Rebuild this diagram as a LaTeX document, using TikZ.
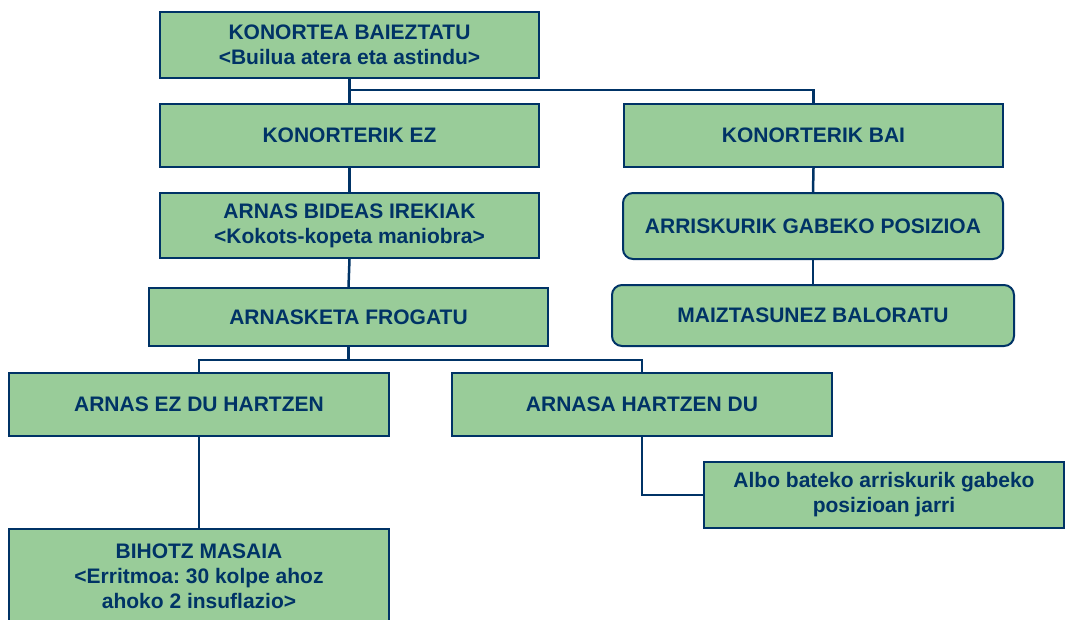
\documentclass[tikz,border=0pt]{standalone}
\usepackage{fontspec}
\setmainfont{Liberation Sans}
\frenchspacing
\definecolor{navy}{HTML}{003366}
\definecolor{boxgreen}{HTML}{99CC99}
\tikzset{
  box/.style={draw=navy, fill=boxgreen, line width=2pt, inner sep=0pt, align=center,
    text=navy, font=\fontsize{21}{25}\selectfont\bfseries},
  rbox/.style={box, rounded corners=10pt},
  conn/.style={draw=navy, line width=2.5pt}
}
\begin{document}
\begin{tikzpicture}[x=1pt,y=-1pt]
\useasboundingbox (0,0) rectangle (1065,619);
\node[box, minimum width=379, minimum height=66] (b1) at (349.5,45) {KONORTEA BAIEZTATU\\{<}Builua atera eta astindu{>}};
\node[box, minimum width=379, minimum height=63] (b2) at (349.5,135.5) {KONORTERIK EZ};
\node[box, minimum width=379, minimum height=63] (b3) at (813.5,135.5) {KONORTERIK BAI};
\node[box, minimum width=379, minimum height=65] (b4) at (349.5,225.5) {ARNAS BIDEAS IREKIAK\\{<}Kokots-kopeta maniobra{>}};
\node[box, minimum width=399, minimum height=58] (b5) at (348.5,317) {ARNASKETA FROGATU};
\node[rbox, minimum width=380, minimum height=66] (b6) at (813,226) {ARRISKURIK GABEKO POSIZIOA};
\node[rbox, minimum width=402, minimum height=61] (b7) at (813,315.5) {MAIZTASUNEZ BALORATU};
\node[box, minimum width=380, minimum height=63] (b8) at (199,404.5) {ARNAS EZ DU HARTZEN};
\node[box, minimum width=380, minimum height=63] (b9) at (642,404.5) {ARNASA HARTZEN DU};
\node[box, minimum width=380, minimum height=94] (b10) at (199,576) {BIHOTZ MASAIA\\{<}Erritmoa: 30 kolpe ahoz\\ahoko 2 insuflazio{>}};
\node[box, minimum width=360, minimum height=66] (b11) at (884,495) {Albo bateko arriskurik gabeko\\posizioan jarri};
\coordinate (j1) at (349.5,90);
\coordinate (j2) at (348.5,360);
\draw[conn] (b1.south) -- (b2.north);
\draw[conn] (j1) -| (b3.north);
\draw[conn] (b2.south) -- (b4.north);
\draw[conn] (b4.south) -- (b5.north);
\draw[conn] (b3.south) -- (b6.north);
\draw[conn] (b6.south) -- (b7.north);
\draw[conn] (b5.south) -- (j2);
\draw[conn] (b8.north) |- (j2) -| (b9.north);
\draw[conn] (b8.south) -- (b10.north);
\draw[conn] (b9.south) |- (b11.west);
\end{tikzpicture}
\end{document}
